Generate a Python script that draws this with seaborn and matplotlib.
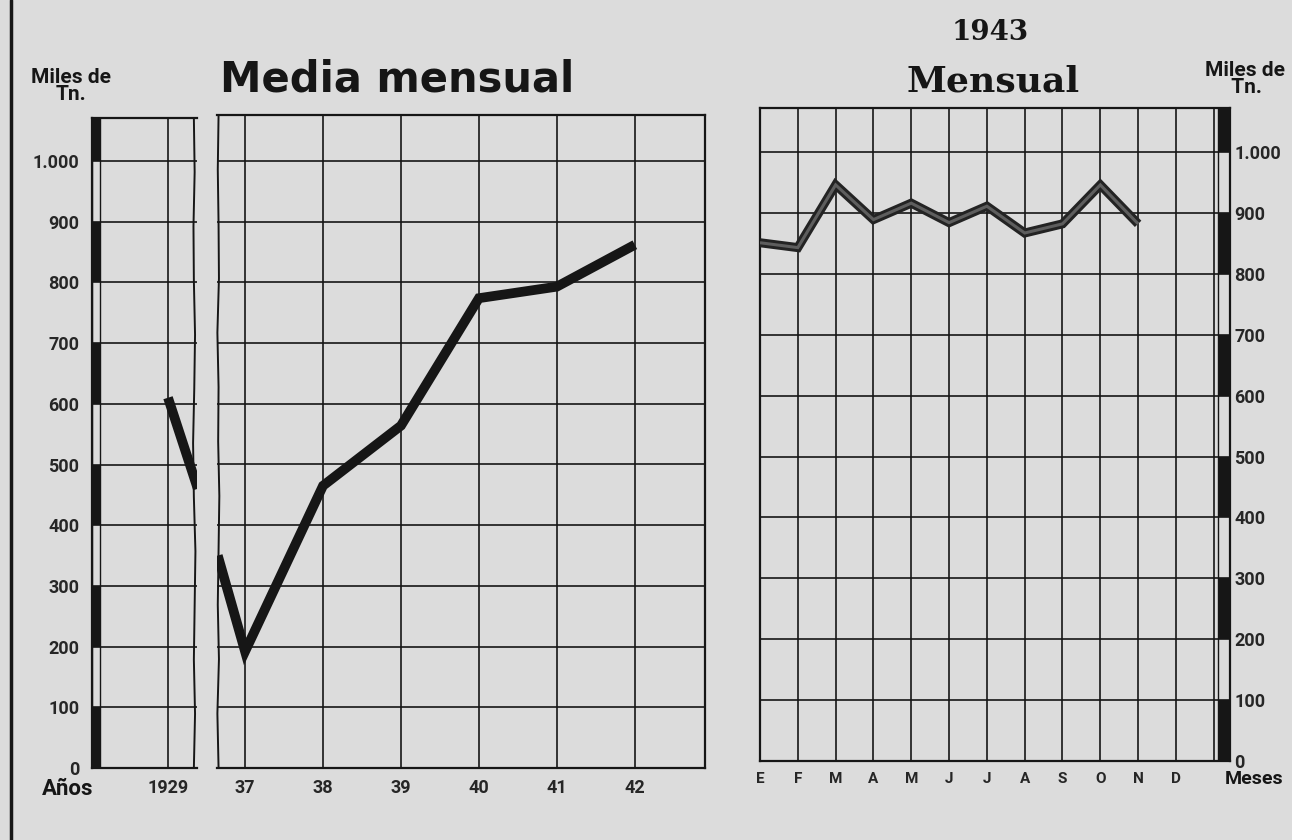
import matplotlib
matplotlib.use('Agg')
import matplotlib.pyplot as plt
from matplotlib.patches import Rectangle
from matplotlib.lines import Line2D
import seaborn as sns

# values (miles de toneladas)
anio_1929 = [1929.0, 1929.38]
media_1929 = [610, 460]
anios = [36.65, 37, 38, 39, 40, 41, 42]
media_anual = [350, 192, 465, 564, 774, 793, 862]
anio_ticks = [37, 38, 39, 40, 41, 42]
anio_labels = ['37', '38', '39', '40', '41', '42']

meses = ['E', 'F', 'M', 'A', 'M', 'J', 'J', 'A', 'S', 'O', 'N', 'D']
mensual_1943 = [851, 843, 946, 889, 916, 884, 911, 867, 882, 946, 882]

y_ticks = list(range(0, 1001, 100))
y_labels = ['0', '100', '200', '300', '400', '500', '600', '700', '800', '900', '1.000']
bar_black = [0, 200, 400, 600, 800, 1000]

PAPER = '#dcdcdc'
INK = '#161616'
W, H = 1292, 840

sns.set_theme(style='white')
plt.rcParams['font.family'] = ['DejaVu Sans']


def box(x0, x1, y0, y1):
    return [x0 / W, 1 - y1 / H, (x1 - x0) / W, (y1 - y0) / H]


def style_axes(ax):
    ax.set_facecolor(PAPER)
    ax.set_yticks(y_ticks)
    ax.tick_params(length=0)
    ax.grid(True, color=INK, linewidth=1.2)
    for s in ax.spines.values():
        s.set_color(INK)
        s.set_linewidth(1.6)


def side_bar(ax, x0, width, top):
    for lo in bar_black:
        hi = min(lo + 100, top)
        ax.add_patch(Rectangle((x0, lo), width, hi - lo, color=INK, zorder=3, lw=0))
    ax.add_patch(Rectangle((x0, 0), width, top, fill=False, ec=INK, lw=1.0, zorder=3))


fig = plt.figure(figsize=(W / 100, H / 100), dpi=100)
fig.patch.set_facecolor(PAPER)

tick_font = dict(family='Roboto', weight='bold', size=13)
line_kw = dict(sort=False, estimator=None, solid_capstyle='butt', solid_joinstyle='miter')

# ---- left panel, 1929 strip ----
ax_a = fig.add_axes(box(92, 197, 118, 768))
style_axes(ax_a)
top_a = (768 - 118) / 0.607
ax_a.set_xlim(1928.03, 1929.37)
ax_a.set_ylim(0, top_a)
ax_a.set_xticks([1929])
ax_a.set_xticklabels(['1929'], fontdict=tick_font)
ax_a.set_yticklabels(y_labels, fontdict=tick_font)
ax_a.tick_params(axis='y', pad=9)
ax_a.tick_params(axis='x', pad=8)
ax_a.spines['right'].set_visible(False)
side_bar(ax_a, 1928.03, 0.1, top_a)
sns.lineplot(x=anio_1929, y=media_1929, ax=ax_a, color=INK, linewidth=7, zorder=4, **line_kw)
wob = [0.0, 0.015, 0.0, 0.01, 0.02, 0.0, -0.01, 0.005, 0.015, 0.0, -0.005, 0.01, 0.0]
ys = [i * top_a / (len(wob) - 1) for i in range(len(wob))]
ax_a.plot([1929.33 + w for w in wob], ys, color=INK, lw=1.4, clip_on=False, zorder=4)

# ---- left panel, 1937-42 ----
ax_b = fig.add_axes(box(217, 705, 115, 768))
style_axes(ax_b)
top_b = (768 - 115) / 0.607
ax_b.set_xlim(36.64, 42.9)
ax_b.set_ylim(0, top_b)
ax_b.set_xticks(anio_ticks)
ax_b.set_xticklabels(anio_labels, fontdict=tick_font)
ax_b.set_yticklabels([])
ax_b.tick_params(axis='x', pad=8)
ax_b.spines['left'].set_visible(False)
sns.lineplot(x=anios, y=media_anual, ax=ax_b, color=INK, linewidth=7, zorder=4, **line_kw)
wob_b = [0.0, -0.015, 0.005, -0.01, 0.0, 0.01, -0.005, 0.0, -0.015, 0.005, 0.0, -0.01, 0.0]
ys = [i * top_b / (len(wob_b) - 1) for i in range(len(wob_b))]
ax_b.plot([36.66 + w for w in wob_b], ys, color=INK, lw=1.4, clip_on=False, zorder=4)

# ---- right panel, 1943 monthly ----
ax_c = fig.add_axes(box(760, 1230, 108, 761))
style_axes(ax_c)
top_c = (761 - 108) / 0.609
ax_c.set_xlim(0, 12.43)
ax_c.set_ylim(0, top_c)
ax_c.set_xticks(range(len(meses)))
ax_c.set_xticklabels(meses, fontdict=dict(family='Roboto', weight='bold', size=11))
ax_c.tick_params(axis='x', pad=8)
ax_c.yaxis.tick_right()
ax_c.set_yticklabels(y_labels, fontdict=tick_font)
ax_c.tick_params(axis='y', pad=3)
ax_c.axvline(12, color=INK, lw=1.2)
side_bar(ax_c, 12.1, 0.33, top_c)
mes_x = list(range(len(mensual_1943)))
sns.lineplot(x=mes_x, y=mensual_1943, ax=ax_c, color='#232323', linewidth=6.5, zorder=4, **line_kw)
sns.lineplot(x=mes_x, y=mensual_1943, ax=ax_c, color='#5e5e5e', linewidth=2.2, zorder=5, **line_kw)

for ax in (ax_a, ax_b, ax_c):
    ax.set_xlabel('')
    ax.set_ylabel('')


# ---- texts ----
def ftext(x, y, s, **kw):
    fig.text(x / W, 1 - y / H, s, **kw)


ftext(71, 86, 'Miles de\nTn.', ha='center', va='center', fontsize=15,
      fontweight='bold', family='Roboto', linespacing=0.85, color=INK)
ftext(1205, 79, 'Miles de\n     Tn.', ha='left', va='center', fontsize=15,
      fontweight='bold', family='Roboto', linespacing=0.85, color=INK)
ftext(397, 92, 'Media mensual', ha='center', va='baseline', fontsize=30,
      fontweight='bold', family='DejaVu Sans', color=INK)
ftext(990, 40, '1943', ha='center', va='baseline', fontsize=20,
      fontweight='bold', family='DejaVu Serif', color=INK)
ftext(993, 92, 'Mensual', ha='center', va='baseline', fontsize=26,
      fontweight='bold', family='DejaVu Serif', color=INK)
ftext(68, 789, 'Años', ha='center', va='center', fontsize=16,
      fontweight='bold', family='Roboto', color=INK)
ftext(1254, 779, 'Meses', ha='center', va='center', fontsize=14,
      fontweight='bold', family='Roboto', color=INK)

fig.add_artist(Line2D([11 / W, 11 / W], [0, 1], color=INK, lw=2.5))

fig.savefig('out.png', dpi=100, facecolor=PAPER)
